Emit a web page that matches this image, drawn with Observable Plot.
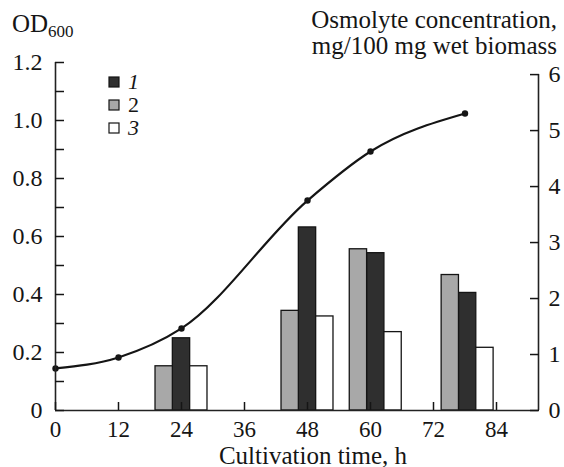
<!DOCTYPE html>
<html><head><meta charset="utf-8">
<script src="https://cdn.jsdelivr.net/npm/d3@7"></script>
<script src="https://cdn.jsdelivr.net/npm/@observablehq/plot@0.6"></script>
<style>
body{margin:0;background:#fff}
svg{display:block}
svg text{font-family:'Liberation Serif','Times New Roman',serif !important;}
</style>
</head><body><div id="chart"></div>
<script>
// Line series: OD600 vs cultivation time
const times = [0, 12, 24, 48, 60, 78];
const od600 = [0.145, 0.183, 0.283, 0.724, 0.893, 1.024];
// Bar series: osmolyte concentration (right axis)
const barTimes = [24, 48, 61, 78.5];
const seriesNames = ["1", "2", "3"];
const osm1 = [1.29, 3.27, 2.81, 2.10];
const osm2 = [0.79, 1.78, 2.88, 2.42];
const osm3 = [0.79, 1.68, 1.40, 1.12];
// Ticks
const xTicks = [0, 12, 24, 36, 48, 60, 72, 84];
const yTicksLeft = [0, 0.2, 0.4, 0.6, 0.8, 1.0, 1.2];
const yMinorLeft = [0, 0.1, 0.2, 0.3, 0.4, 0.5, 0.6, 0.7, 0.8, 0.9, 1.0, 1.1, 1.2];
const yTicksRight = [0, 1, 2, 3, 4, 5, 6];

const W = 564, H = 467;
const FONT = "'Liberation Serif', 'Times New Roman', serif";
const ratio = 5.18;       // right-axis units per left-axis unit (as drawn in the original)
const barW = 3.3;         // bar width in hours
const offsets = {"1": 0, "2": -1, "3": 1};
const fills = {"1": "#2f2f2f", "2": "#a8a8a8", "3": "#ffffff"};
const xMax = 92;
const rightTop = yTicksRight[yTicksRight.length - 1] / ratio;

const bars = [];
[osm1, osm2, osm3].forEach((vals, si) => vals.forEach((v, i) =>
  bars.push({series: seriesNames[si], t: barTimes[i], v})));
const line = times.map((t, i) => ({t, od: od600[i]}));

const plot = Plot.plot({
  width: W, height: H,
  marginLeft: 55, marginRight: 26, marginTop: 62, marginBottom: 57,
  style: {fontFamily: FONT, fontSize: "24px", color: "#151515", background: "#fff"},
  x: {domain: [0, xMax]},
  y: {domain: [0, 1.2]},
  marks: [
    Plot.rectY(bars, {
      x1: d => d.t + offsets[d.series] * barW - barW / 2,
      x2: d => d.t + offsets[d.series] * barW + barW / 2,
      y1: 0, y2: d => d.v / ratio,
      fill: d => fills[d.series], stroke: "#151515", strokeWidth: 1.3
    }),
    Plot.line(line, {x: "t", y: "od", curve: "monotone-x", stroke: "#151515", strokeWidth: 2.2}),
    Plot.dot(line, {x: "t", y: "od", r: 3.2, fill: "#151515"}),
    Plot.ruleX([0], {y1: 0, y2: 1.2, stroke: "#222", strokeWidth: 1.6}),
    Plot.ruleX([xMax], {y1: 0, y2: rightTop, stroke: "#222", strokeWidth: 1.6}),
    Plot.ruleY([0], {x1: 0, x2: xMax, stroke: "#222", strokeWidth: 1.6}),
    // left axis
    Plot.axisY(yMinorLeft, {anchor: "left", tickSize: -9, tickFormat: () => "", label: null, strokeWidth: 1.5}),
    Plot.axisY(yTicksLeft, {anchor: "left", tickSize: 0, tickPadding: 13, label: null, fontFamily: FONT,
      tickFormat: d => d === 0 ? "0" : d.toFixed(1)}),
    // right axis
    Plot.axisY(yTicksRight.map(v => v / ratio), {anchor: "right", tickSize: -9, tickFormat: () => "", label: null, strokeWidth: 1.5}),
    Plot.axisY(yTicksRight.map(v => v / ratio), {anchor: "right", tickSize: 0, tickPadding: 10, label: null, fontFamily: FONT,
      tickFormat: d => String(Math.round(d * ratio))}),
    // bottom axis
    Plot.axisX(xTicks, {anchor: "bottom", tickSize: -8, tickFormat: () => "", label: null, strokeWidth: 1.5}),
    Plot.axisX(xTicks, {anchor: "bottom", tickSize: 0, tickPadding: 10, label: null, fontSize: 23, fontFamily: FONT}),
    Plot.text(["Cultivation time, h"], {frameAnchor: "bottom", lineAnchor: "bottom", dy: 53, dx: 16, fontSize: 25, fontFamily: FONT})
  ]
});
document.getElementById("chart").appendChild(plot);

const svg = d3.select(plot);
// Left title OD600
const od = svg.append("text").attr("x", 12).attr("y", 32).attr("text-anchor", "start")
  .attr("font-size", 25).attr("fill", "#151515");
od.append("tspan").text("OD");
od.append("tspan").attr("font-size", 17).attr("dy", 5).text("600");
// Right title
svg.append("text").attr("x", 557).attr("y", 28).attr("text-anchor", "end")
  .attr("font-size", 25).attr("fill", "#151515")
  .text("Osmolyte concentration,");
svg.append("text").attr("x", 557).attr("y", 54).attr("text-anchor", "end")
  .attr("font-size", 25).attr("fill", "#151515")
  .text("mg/100 mg wet biomass");
// Legend
const legendY = [82, 105, 128];
const legendItalic = {"1": true, "2": false, "3": true};
seriesNames.forEach((s, i) => {
  const g = svg.append("g");
  g.append("rect").attr("x", 109).attr("y", legendY[i] - 5).attr("width", 10).attr("height", 10)
    .attr("fill", fills[s]).attr("stroke", "#151515").attr("stroke-width", 1.2);
  g.append("text").attr("x", 128).attr("y", legendY[i]).attr("dy", "0.34em").attr("text-anchor", "start")
    .attr("font-size", 22).attr("fill", "#151515")
    .attr("font-style", legendItalic[s] ? "italic" : "normal").text(s);
});
// make sure every text uses the serif face
svg.selectAll("text").attr("font-family", FONT).style("font-family", FONT);
</script>
</body></html>
